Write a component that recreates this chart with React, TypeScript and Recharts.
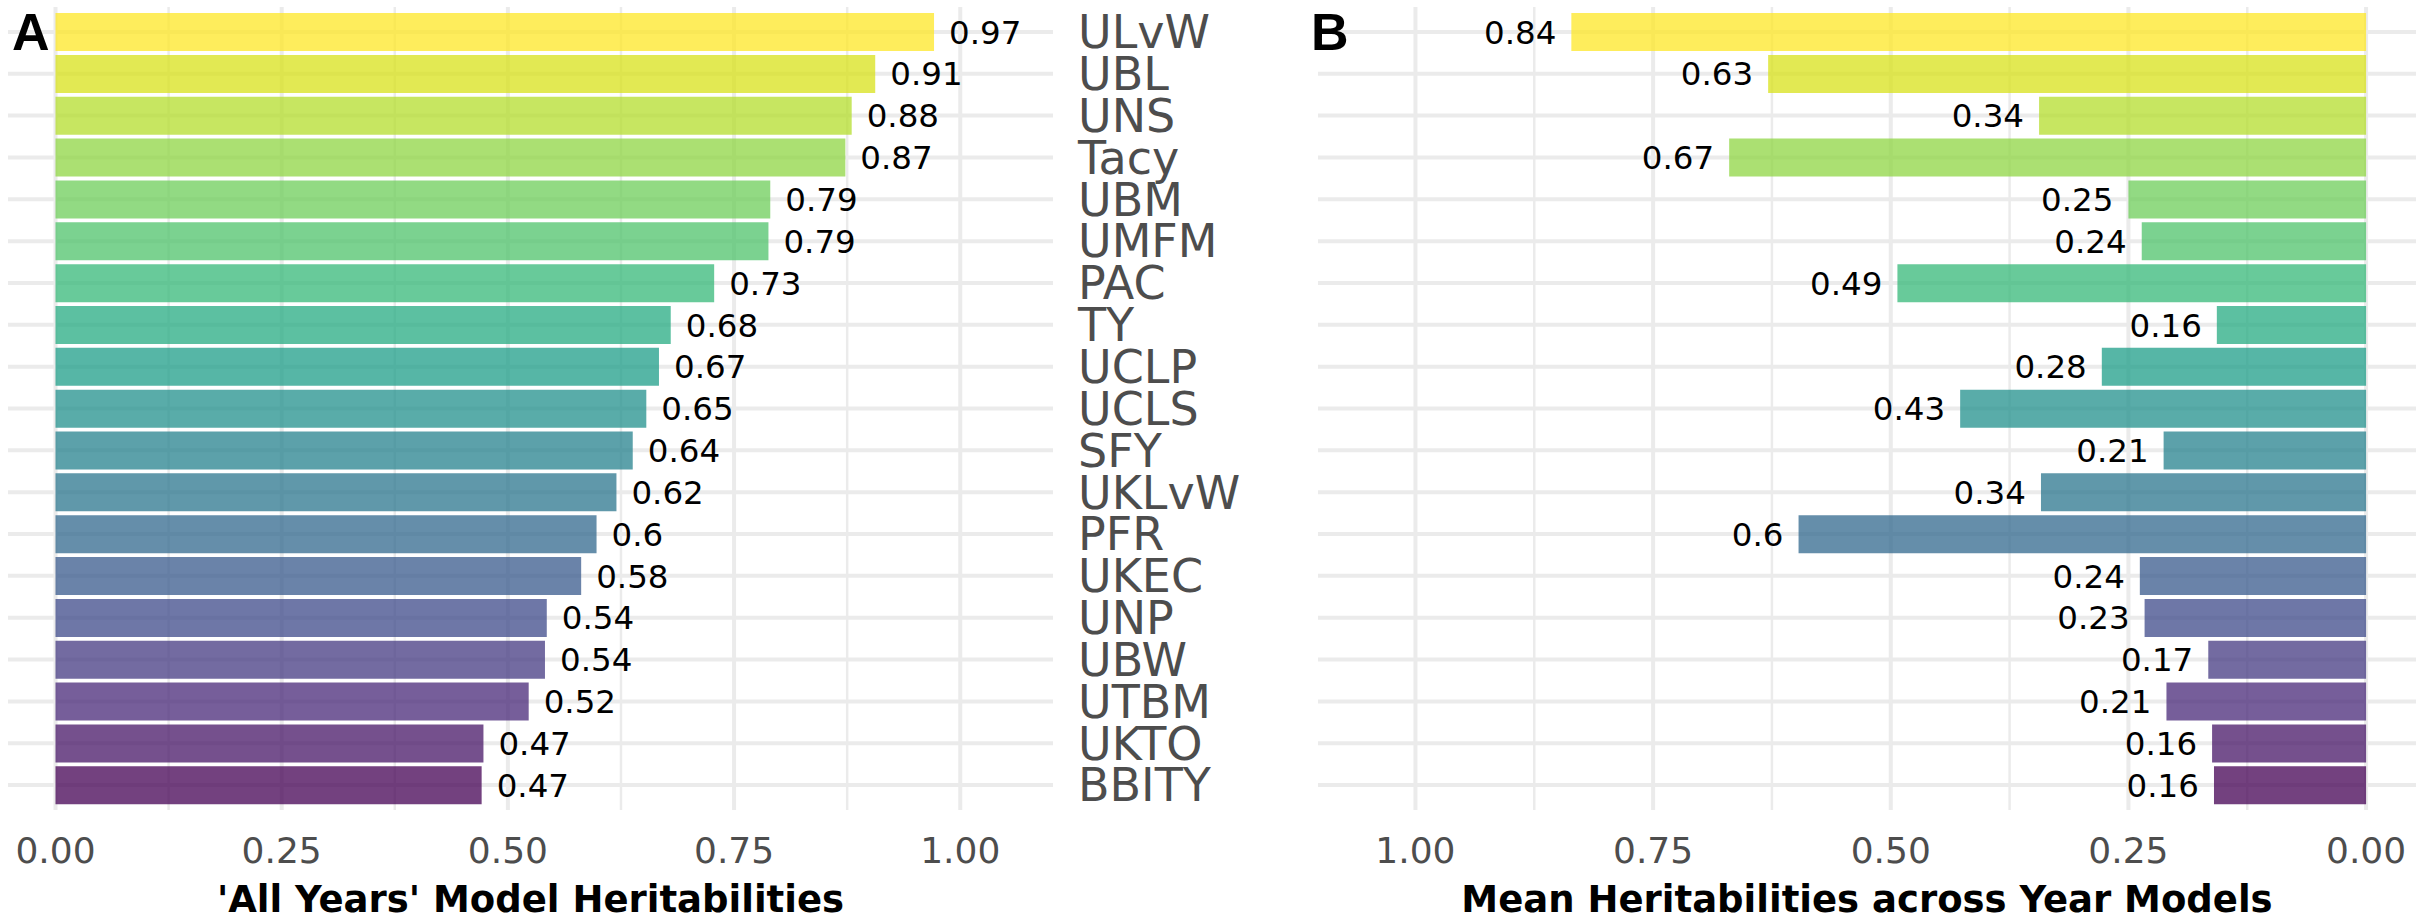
import React from 'react';
import { BarChart, Bar, XAxis, YAxis, CartesianGrid, Cell, LabelList } from 'recharts';

// traits, top to bottom
const traits = [
  'ULvW', 'UBL', 'UNS', 'Tacy', 'UBM', 'UMFM', 'PAC', 'TY', 'UCLP', 'UCLS',
  'SFY', 'UKLvW', 'PFR', 'UKEC', 'UNP', 'UBW', 'UTBM', 'UKTO', 'BBITY',
];

// 'All Years' model heritabilities (panel A)
const allYears = [
  0.971, 0.906, 0.88, 0.873, 0.79, 0.788, 0.728, 0.68, 0.667, 0.653,
  0.638, 0.62, 0.598, 0.581, 0.543, 0.541, 0.523, 0.473, 0.471,
];

// mean heritabilities across the single-year models (panel B)
const yearMeans = [
  0.836, 0.629, 0.344, 0.67, 0.25, 0.236, 0.493, 0.157, 0.278, 0.427,
  0.213, 0.342, 0.597, 0.238, 0.233, 0.166, 0.21, 0.162, 0.16,
];

const majorTicks = [0, 0.25, 0.5, 0.75, 1];
const minorTicks = [0.125, 0.375, 0.625, 0.875];

// viridis, reversed so the first trait is yellow
const palette = [
  '#FDE725', '#D8E21A', '#B4DE2C', '#8FD643', '#6DCD59', '#4FC36B', '#36B878',
  '#25AB82', '#1E9D88', '#21908C', '#26828E', '#2B758E', '#31688E', '#385A8C',
  '#3E4A89', '#443A82', '#482878', '#471567', '#440154',
];

const rowsA = traits.map((name, i) => ({ name, value: allYears[i] }));
const rowsB = traits.map((name, i) => ({ name, value: yearMeans[i] }));

const FONT = '"DejaVu Sans", Verdana, sans-serif';
const GRID = '#EBEBEB';
const DOMAIN: [number, number] = [-0.0525, 1.1025];

const fmtTick = (v: number) => v.toFixed(2);
const fmtValue = (v: any) => String(Number(Number(v).toFixed(2)));

if (typeof document !== 'undefined') {
  document.body.style.margin = '0';
}

const tickStyle = { fontSize: 36, fill: '#4D4D4D', fontFamily: FONT };

const titleLabel = (value: string) => ({
  value,
  position: 'insideBottom' as const,
  offset: 10,
  fill: '#000000',
  fontSize: 37,
  fontWeight: 'bold',
  fontFamily: FONT,
});

export default function App() {
  return (
    <div style={{ position: 'relative', width: 2426, height: 922, background: '#fff', display: 'flex' }}>
      {/* Panel A */}
      <BarChart
        width={1318}
        height={922}
        layout="vertical"
        data={rowsA}
        margin={{ top: 7, right: 0, bottom: 0, left: 8 }}
        barCategoryGap="5%"
      >
        <CartesianGrid xAxisId="minor" stroke={GRID} strokeWidth={2.5} horizontal={false} syncWithTicks />
        <CartesianGrid stroke={GRID} strokeWidth={4} syncWithTicks />
        <XAxis xAxisId="minor" type="number" domain={DOMAIN} ticks={minorTicks} allowDataOverflow hide />
        <XAxis
          type="number"
          domain={DOMAIN}
          ticks={majorTicks}
          allowDataOverflow
          tickFormatter={fmtTick}
          axisLine={false}
          tickLine={false}
          height={112}
          tickMargin={21}
          tick={tickStyle}
          label={titleLabel("'All Years' Model Heritabilities")}
        />
        <YAxis
          type="category"
          dataKey="name"
          orientation="right"
          width={265}
          interval={0}
          axisLine={false}
          tickLine={false}
          tickMargin={19}
          padding={{ top: 4, bottom: 4 }}
          tick={{ fontSize: 46, fill: '#4D4D4D', fontFamily: FONT }}
        />
        <Bar dataKey="value" isAnimationActive={false} fillOpacity={0.75}>
          {rowsA.map((r, i) => (
            <Cell key={r.name} fill={palette[i]} />
          ))}
          <LabelList
            dataKey="value"
            position="right"
            offset={15}
            formatter={fmtValue}
            fill="#000000"
            fontSize={32.5}
            fontFamily={FONT}
          />
        </Bar>
      </BarChart>

      {/* Panel B */}
      <BarChart
        width={1108}
        height={922}
        layout="vertical"
        data={rowsB}
        margin={{ top: 7, right: 10, bottom: 0, left: 0 }}
        barCategoryGap="5%"
      >
        <CartesianGrid xAxisId="minor" stroke={GRID} strokeWidth={2.5} horizontal={false} syncWithTicks />
        <CartesianGrid stroke={GRID} strokeWidth={4} syncWithTicks />
        <XAxis xAxisId="minor" type="number" domain={DOMAIN} ticks={minorTicks} reversed allowDataOverflow hide />
        <XAxis
          type="number"
          domain={DOMAIN}
          ticks={majorTicks}
          reversed
          allowDataOverflow
          tickFormatter={fmtTick}
          axisLine={false}
          tickLine={false}
          height={112}
          tickMargin={21}
          tick={tickStyle}
          label={titleLabel('Mean Heritabilities across Year Models')}
        />
        <YAxis type="category" dataKey="name" hide interval={0} padding={{ top: 4, bottom: 4 }} />
        <Bar dataKey="value" isAnimationActive={false} fillOpacity={0.75}>
          {rowsB.map((r, i) => (
            <Cell key={r.name} fill={palette[i]} />
          ))}
          <LabelList
            dataKey="value"
            position="right"
            offset={15}
            formatter={fmtValue}
            fill="#000000"
            fontSize={32.5}
            fontFamily={FONT}
          />
        </Bar>
      </BarChart>

      {/* panel tags */}
      <svg width={2426} height={922} style={{ position: 'absolute', left: 0, top: 0, pointerEvents: 'none' }}>
        <text x={12} y={50} fontSize={52} fontWeight="bold" fontFamily='"Liberation Sans", Arial, sans-serif'>A</text>
        <text x={1311} y={50} fontSize={52} fontWeight="bold" fontFamily='"Liberation Sans", Arial, sans-serif'>B</text>
      </svg>
    </div>
  );
}
